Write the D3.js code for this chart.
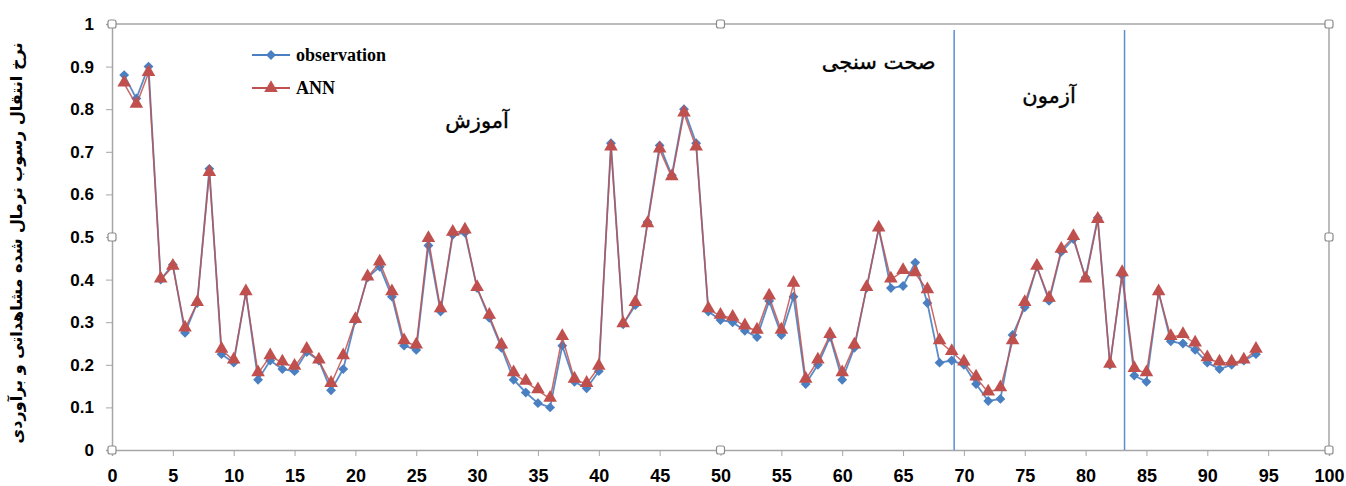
<!DOCTYPE html>
<html lang="fa">
<head>
<meta charset="utf-8">
<script src="https://d3js.org/d3.v7.min.js"></script>
<style>
  body { margin: 0; background: #fff; }
</style>
</head>
<body>
<script type="text/javascript">
  var w = 1346;
  var h = 486;

  var xTicks = d3.range(0, 101, 5);
  var yTicks = d3.range(0, 1.01, 0.1);

  var observation = [0.88, 0.825, 0.90, 0.40, 0.435, 0.275, 0.345, 0.66, 0.225, 0.205,
    0.37, 0.165, 0.21, 0.19, 0.185, 0.23, 0.21, 0.14, 0.19, 0.305,
    0.405, 0.43, 0.36, 0.245, 0.235, 0.48, 0.325, 0.505, 0.51, 0.38,
    0.31, 0.24, 0.165, 0.135, 0.11, 0.10, 0.245, 0.16, 0.145, 0.185,
    0.72, 0.295, 0.34, 0.535, 0.715, 0.645, 0.80, 0.72, 0.325, 0.305,
    0.30, 0.28, 0.265, 0.35, 0.27, 0.36, 0.155, 0.20, 0.265, 0.165,
    0.24, 0.38, 0.52, 0.38, 0.385, 0.44, 0.345, 0.205, 0.21, 0.20,
    0.155, 0.115, 0.12, 0.27, 0.335, 0.43, 0.35, 0.465, 0.495, 0.405,
    0.545, 0.20, 0.41, 0.175, 0.16, 0.37, 0.255, 0.25, 0.235, 0.205,
    0.19, 0.20, 0.21, 0.225];

  var ann = [0.86, 0.81, 0.885, 0.40, 0.43, 0.285, 0.345, 0.65, 0.235, 0.21,
    0.37, 0.18, 0.22, 0.205, 0.195, 0.235, 0.21, 0.155, 0.22, 0.305,
    0.405, 0.44, 0.37, 0.255, 0.245, 0.495, 0.33, 0.51, 0.515, 0.38,
    0.315, 0.245, 0.18, 0.16, 0.14, 0.12, 0.265, 0.165, 0.155, 0.195,
    0.71, 0.295, 0.345, 0.53, 0.705, 0.64, 0.79, 0.71, 0.33, 0.315,
    0.31, 0.29, 0.28, 0.36, 0.28, 0.39, 0.165, 0.21, 0.27, 0.18,
    0.245, 0.38, 0.52, 0.40, 0.42, 0.415, 0.375, 0.255, 0.23, 0.205,
    0.17, 0.135, 0.145, 0.255, 0.345, 0.43, 0.355, 0.47, 0.50, 0.40,
    0.54, 0.20, 0.415, 0.19, 0.18, 0.37, 0.265, 0.27, 0.25, 0.215,
    0.205, 0.205, 0.21, 0.235];

  var dividers = [69.2, 83.2];
  var phases = [
    {label: "آموزش", x: 30, y: 0.755},
    {label: "صحت سنجی", x: 63, y: 0.895},
    {label: "آزمون", x: 77, y: 0.815}
  ];

  var pL = 112, pR = 1329, pT = 24, pB = 450;

  var x = d3.scaleLinear().domain([0, 100]).range([pL, pR]);
  var y = d3.scaleLinear().domain([0, 1]).range([pB, pT]);

  var svg = d3.select("body")
          .append("svg")
          .attr("width", w)
          .attr("height", h);

  var axisColor = "#a6a6a6";

  // frame (top and right edges)
  svg.append("path")
    .attr("d", `M${pL},${pT}H${pR}V${pB}`)
    .attr("fill", "none")
    .attr("stroke", axisColor)
    .attr("stroke-width", 1.5);

  // y axis
  var yAxis = svg.append("g")
    .attr("transform", `translate(${pL},0)`)
    .call(d3.axisLeft(y).tickValues(yTicks).tickSize(6).tickPadding(12)
      .tickFormat(function(d) { return d3.format("~g")(+d.toFixed(1)); }));
  yAxis.select(".domain").attr("stroke", axisColor).attr("stroke-width", 1.5);
  yAxis.selectAll(".tick line").attr("stroke", axisColor);
  yAxis.selectAll("text")
    .attr("font-family", "Liberation Sans, Arial, sans-serif")
    .attr("font-weight", "bold")
    .attr("font-size", 17)
    .attr("fill", "#000");

  // x axis
  var xAxis = svg.append("g")
    .attr("transform", `translate(0,${pB})`)
    .call(d3.axisBottom(x).tickValues(xTicks).tickSize(6).tickPadding(13));
  xAxis.select(".domain").attr("stroke", axisColor).attr("stroke-width", 1.5);
  xAxis.selectAll(".tick line").attr("stroke", axisColor);
  xAxis.selectAll("text")
    .attr("font-family", "Liberation Sans Narrow, Liberation Sans, Arial, sans-serif")
    .attr("font-weight", "bold")
    .attr("font-size", 18)
    .attr("fill", "#000");

  // divider lines between phases
  svg.selectAll("line.divider")
    .data(dividers)
    .join("line")
    .attr("class", "divider")
    .attr("x1", function(d) { return x(d); })
    .attr("x2", function(d) { return x(d); })
    .attr("y1", 30)
    .attr("y2", pB)
    .attr("stroke", "#5b8fd0")
    .attr("stroke-width", 1.5);

  var blue = "#4a7fc1", red = "#c0504d";

  var obsData = observation.map(function(v, i) { return [i + 1, v]; });
  var annData = ann.map(function(v, i) { return [i + 1, v]; });

  var line = d3.line()
    .x(function(d) { return x(d[0]); })
    .y(function(d) { return y(d[1]); });

  svg.append("path").datum(obsData)
    .attr("d", line).attr("fill", "none")
    .attr("stroke", blue).attr("stroke-width", 1.8).attr("opacity", 0.9);

  var diamond = d3.symbol().type(d3.symbolDiamond2).size(62);
  var triangle = d3.symbol().type(d3.symbolTriangle).size(80);

  svg.selectAll("path.obs")
    .data(obsData)
    .join("path")
    .attr("class", "obs")
    .attr("d", diamond)
    .attr("transform", function(d) { return `translate(${x(d[0])},${y(d[1])})`; })
    .attr("fill", blue);

  svg.append("path").datum(annData)
    .attr("d", line).attr("fill", "none")
    .attr("stroke", red).attr("stroke-width", 1.5).attr("opacity", 0.85);

  svg.selectAll("path.ann")
    .data(annData)
    .join("path")
    .attr("class", "ann")
    .attr("d", triangle)
    .attr("transform", function(d) { return `translate(${x(d[0])},${y(d[1]) - 1})`; })
    .attr("fill", red);

  // selection handles (excel style)
  var handles = [[pL, pT], [(pL + pR) / 2, pT], [pR, pT],
    [pL, (pT + pB) / 2], [pR, (pT + pB) / 2],
    [pL, pB], [(pL + pR) / 2, pB], [pR, pB]];
  svg.selectAll("rect.handle")
    .data(handles)
    .join("rect")
    .attr("class", "handle")
    .attr("x", function(d) { return d[0] - 4; })
    .attr("y", function(d) { return d[1] - 4; })
    .attr("width", 8).attr("height", 8)
    .attr("rx", 2)
    .attr("fill", "#fff")
    .attr("stroke", "#8c8c8c")
    .attr("stroke-width", 1.2);

  // legend
  var legend = [{name: "observation", color: blue, sym: diamond, y: 55},
    {name: "ANN", color: red, sym: triangle, y: 88}];
  var lg = svg.selectAll("g.legend")
    .data(legend)
    .join("g")
    .attr("class", "legend")
    .attr("transform", function(d) { return `translate(252,${d.y})`; });
  lg.append("line")
    .attr("x1", 0).attr("x2", 38)
    .attr("stroke", function(d) { return d.color; })
    .attr("stroke-width", 1.8);
  lg.append("path")
    .attr("d", function(d) { return d.sym(); })
    .attr("transform", "translate(19,0)")
    .attr("fill", function(d) { return d.color; });
  lg.append("text")
    .attr("x", 44).attr("y", 6)
    .attr("font-family", "Liberation Serif, Times New Roman, serif")
    .attr("font-weight", "bold")
    .attr("font-size", 18)
    .text(function(d) { return d.name; });

  // phase labels
  svg.selectAll("text.phase")
    .data(phases)
    .join("text")
    .attr("class", "phase")
    .attr("x", function(d) { return x(d.x); })
    .attr("y", function(d) { return y(d.y); })
    .attr("text-anchor", "middle")
    .attr("font-family", "DejaVu Sans, Noto Sans, sans-serif")
    .attr("font-size", 21)
    .attr("stroke", "#000")
    .attr("stroke-width", 0.4)
    .attr("fill", "#000")
    .text(function(d) { return d.label; });

  // y axis title
  svg.append("text")
    .attr("transform", `translate(22,${(pT + pB) / 2 + 6}) rotate(-90)`)
    .attr("text-anchor", "middle")
    .attr("direction", "rtl")
    .attr("font-family", "DejaVu Sans, Noto Sans, sans-serif")
    .attr("font-weight", "bold")
    .attr("font-size", 16)
    .text("نرخ انتقال رسوب نرمال شده مشاهداتی و برآوردی");
</script>
</body>
</html>
